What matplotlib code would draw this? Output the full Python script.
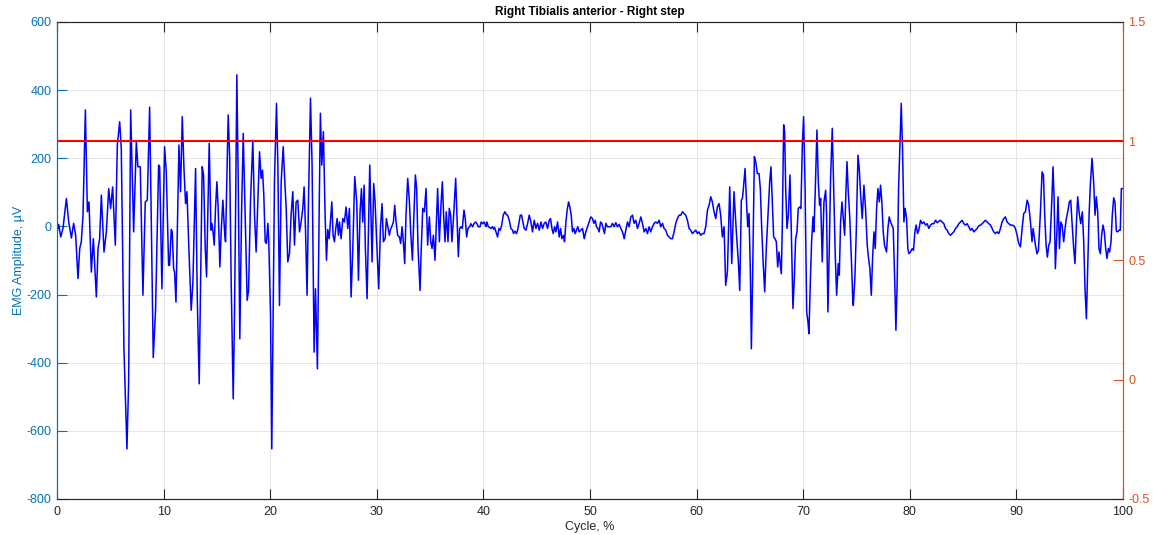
import matplotlib
matplotlib.use("Agg")
import matplotlib.pyplot as plt

plt.rcParams['font.family'] = ['Liberation Sans', 'DejaVu Sans']
plt.rcParams['axes.unicode_minus'] = False

# gait cycle position (%) and EMG amplitude (uV) of the right tibialis anterior
cycle_pct = [
    0.00, 0.16, 0.35, 0.56, 0.88, 1.10, 1.35, 1.56, 1.75, 1.97, 2.13, 2.28, 2.44, 2.66, 2.85, 3.00, 3.22, 3.41,
    3.69, 3.85, 4.00, 4.16, 4.41, 4.63, 4.85, 5.03, 5.22, 5.47, 5.66, 5.88, 6.03, 6.28, 6.56, 6.72, 6.91, 7.19,
    7.44, 7.59, 7.81, 8.06, 8.28, 8.47,
    8.69, 9.03, 9.25, 9.53, 9.63, 9.84, 10.09, 10.25, 10.47, 10.56, 10.72, 10.81, 10.94, 11.03, 11.16, 11.44,
    11.59, 11.75, 11.91, 12.06, 12.19, 12.37, 12.59, 12.75, 13.00, 13.16, 13.34, 13.47, 13.62, 13.75, 13.91,
    14.03, 14.15, 14.28, 14.44, 14.53, 14.62, 14.75, 14.87, 15.00, 15.12, 15.28, 15.40, 15.56, 15.72, 15.81,
    15.94, 16.06, 16.19, 16.34, 16.53, 16.65, 16.75, 16.87, 17.00, 17.15, 17.31, 17.47,
    17.84, 17.97, 18.15, 18.37, 18.53, 18.68, 18.84, 19.00, 19.15, 19.28, 19.40, 19.53, 19.65, 19.78, 19.87,
    20.03, 20.15, 20.28, 20.40, 20.59, 20.72, 20.87, 21.03, 21.22, 21.34, 21.50, 21.65, 21.81, 21.96, 22.12,
    22.28, 22.43, 22.59, 22.75, 22.90, 23.06, 23.18, 23.31, 23.46, 23.59, 23.78, 23.93, 24.12, 24.25, 24.43,
    24.59, 24.71, 24.84, 24.99, 25.15, 25.28, 25.40, 25.53, 25.65, 25.78, 25.90, 26.03, 26.15, 26.28, 26.40,
    26.50, 26.65, 26.81, 26.96, 27.12, 27.28, 27.43, 27.59, 27.75, 27.93, 28.12, 28.28, 28.43, 28.56, 28.68,
    28.81, 28.93, 29.09, 29.21, 29.34, 29.56, 29.71, 29.84, 29.99, 30.18, 30.34, 30.49, 30.62, 30.78, 30.90,
    31.06, 31.18, 31.28, 31.40, 31.56, 31.68, 31.81, 31.96, 32.12, 32.24, 32.37, 32.49, 32.62, 32.74, 32.90,
    33.06, 33.18, 33.34, 33.46, 33.62, 33.74, 33.87, 34.06, 34.15, 34.31, 34.46, 34.62, 34.77, 34.93, 35.06,
    35.18, 35.31,
    35.46, 35.71, 35.87, 36.02, 36.15, 36.27, 36.40, 36.52, 36.68, 36.80, 36.93, 37.05, 37.21, 37.40, 37.52,
    37.65, 37.77, 37.90, 38.02, 38.18, 38.30, 38.43, 38.55, 38.71, 38.83, 38.99, 39.12, 39.27, 39.40, 39.52,
    39.68, 39.80, 39.93, 40.08, 40.24, 40.33, 40.46, 40.58, 40.71, 40.87, 40.96, 41.05, 41.18, 41.33, 41.46,
    41.58, 41.71, 41.86, 42.02, 42.15, 42.27, 42.43, 42.58, 42.74, 42.83, 42.96, 43.11, 43.21, 43.33, 43.46,
    43.58, 43.71, 43.83, 43.99, 44.15,
    44.30, 44.46, 44.61, 44.77, 44.93, 45.08, 45.24, 45.40, 45.55, 45.71, 45.86, 46.02, 46.18, 46.30, 46.43,
    46.55, 46.68, 46.80, 46.96, 47.11, 47.24, 47.36, 47.52, 47.61, 47.74, 47.86, 47.99, 48.11, 48.24, 48.36,
    48.49, 48.61, 48.74, 48.86, 48.99, 49.14, 49.30, 49.46, 49.61, 49.77, 49.93, 50.08, 50.24, 50.36, 50.49,
    50.61, 50.74, 50.86, 50.99, 51.11, 51.24, 51.36, 51.49, 51.64, 51.80, 51.96, 52.11, 52.27, 52.42, 52.58,
    52.74, 52.89, 53.05,
    53.21, 53.36, 53.52, 53.67, 53.83, 53.99, 54.14, 54.30, 54.45, 54.61, 54.77, 54.92, 55.08, 55.24, 55.39,
    55.55, 55.70, 55.86, 56.02, 56.17, 56.33, 56.49, 56.64, 56.80, 56.95, 57.11, 57.27, 57.42, 57.58, 57.73,
    57.89, 58.05, 58.20, 58.36, 58.52, 58.67, 58.83, 58.98, 59.14, 59.30, 59.45, 59.61, 59.77, 59.92, 60.08,
    60.23, 60.39, 60.55, 60.70, 60.86, 61.02, 61.17, 61.33, 61.48, 61.64, 61.80, 61.95,
    62.11, 62.26, 62.42, 62.58, 62.73, 62.89, 63.11, 63.30, 63.51, 63.73, 63.92, 64.05, 64.20, 64.30, 64.39,
    64.55, 64.67, 64.80, 64.92, 65.05, 65.14, 65.26, 65.42, 65.55, 65.70, 65.86, 65.98, 66.11, 66.26, 66.39,
    66.54, 66.70, 66.86, 66.98, 67.11, 67.23, 67.36, 67.48, 67.61, 67.73, 67.86, 67.95, 68.04, 68.17, 68.26,
    68.36, 68.48, 68.61, 68.76, 68.89, 69.04, 69.17, 69.29, 69.42, 69.54, 69.67, 69.79, 69.92, 70.04, 70.17,
    70.33, 70.45, 70.54, 70.67, 70.79, 70.92,
    71.01, 71.14, 71.29, 71.42, 71.54, 71.64, 71.79, 71.95, 72.11, 72.20, 72.32, 72.45, 72.57, 72.73, 72.89,
    73.01, 73.14, 73.29, 73.39, 73.51, 73.64, 73.76, 73.89, 74.01, 74.11, 74.23, 74.36, 74.51, 74.64, 74.70,
    74.85, 74.98, 75.14, 75.26, 75.39, 75.54, 75.70, 75.85, 76.01, 76.10, 76.26, 76.39, 76.51, 76.64, 76.76,
    76.89, 77.01, 77.14, 77.26, 77.38, 77.51, 77.63, 77.82, 77.95, 78.07, 78.20, 78.32, 78.45, 78.60, 78.70,
    78.82, 78.95, 79.07, 79.20, 79.32, 79.45, 79.57, 79.70, 79.82,
    79.92, 80.07, 80.23, 80.35, 80.48, 80.60, 80.73, 80.85, 81.01, 81.17, 81.32, 81.48, 81.63, 81.79, 81.95,
    82.10, 82.26, 82.42, 82.57, 82.73, 82.88, 83.04, 83.20, 83.35, 83.51, 83.66, 83.82, 83.98, 84.13, 84.29,
    84.45, 84.60, 84.76, 84.91, 85.07, 85.23, 85.38, 85.54, 85.70, 85.85, 86.01, 86.16, 86.32, 86.48, 86.63,
    86.79, 86.94, 87.10, 87.26, 87.41, 87.57, 87.73, 87.88, 88.04, 88.19, 88.35, 88.51, 88.66,
    88.82, 88.97, 89.13, 89.29, 89.44, 89.60, 89.76, 89.91, 90.07, 90.22, 90.38, 90.54, 90.69, 90.85, 91.01,
    91.16, 91.32, 91.47, 91.57, 91.66, 91.79, 91.94, 92.07, 92.26, 92.41, 92.54, 92.66, 92.79, 92.91, 93.04,
    93.16, 93.32, 93.44, 93.54, 93.66, 93.79, 93.91, 94.04, 94.16, 94.29, 94.44, 94.57, 94.69, 94.82, 94.97,
    95.10, 95.22, 95.38, 95.50, 95.63, 95.75, 95.88, 96.04, 96.19, 96.32, 96.44, 96.57, 96.69, 96.82, 96.94,
    97.10, 97.25, 97.38, 97.50, 97.63, 97.75, 97.88, 98.00, 98.13, 98.25, 98.38, 98.50, 98.63, 98.75, 98.88,
    99.00, 99.13, 99.25, 99.38, 99.50, 99.63, 99.75, 99.85, 100.00,
]

emg_uv = [
    -16, 6, -31, -6, 82, 13, -34, 9, -26, -153, -65, -45, 33, 342, 43, 72, -134, -36,
    -207, -65, -36, 92, -75, -16, 111, 53, 116, -55, 239, 307, 229, -359, -653, -457, 342, -16,
    249, 175, 175, -202, 72, 77,
    350, -385, -241, 180, 175, -183, 234, 160, -114, -114, -9, -16, -124, -134, -222, 239,
    102, 322, 170, 67, 102, -65, -246, -163, 170, -212, -462, -163, 175, 151, -65,
    -148, 33, 244, -11, 9, -11, -55, 53, 131, 53, -119, -16, 77, -16, -45,
    151, 327, 209, -163, -506, -261, 33, 445, 131, -330, 33, 273,
    -217, -188, 72, 253, 33, -75, 72, 219, 141, 165, 92, -45, -50, 9, -45,
    -261, -653, -261, 131, 361, 180, -232, 131, 234, 151, 53, -104, -80, 33, 102,
    -55, 72, 77, -16, 13, 53, 116, -6, -202, 72, 376, 180, -369, -183, -418,
    33, 332, 180, 278, 33, -99, -9, -36, 13, 72, -26, -45, -6, 23, -26,
    13, -36, 23, 13, 57, -6, 53, -207, -65, 146, 72, -158, 43, 111, 13,
    121, -65, -212, -16, 180, -104, 126, 72, -45, -183, -6, 67, -45, -36, 23,
    -6, -26, -9, -1, 13, 62, 13, -26, -31, -50, -1, -45, -109, 33, 141,
    72, -16, -99, 13, 151, 111, -65, -188, -85, 53, 43, 111, -55, 28, -45,
    -65, -26,
    -99, 111, -45, 62, 131, 33, -45, 43, -45, 53, 33, -45, 33, 141, 33,
    -89, -6, -1, -6, 48, 23, -31, -6, -1, 8, -1, 8, 13, 8, -1,
    -1, 13, 8, 13, -1, 13, -1, -3, -6, -1, -8, -3, -16, -31, -6,
    -11, 2, 33, 43, 35, 33, 18, -6, -11, -21, -14, -21, -11, 9, 33,
    33, 13, -6, -11, 9,
    33, 13, -16, 18, -6, 9, -11, 13, -6, 9, 13, -6, 18, 23, -6,
    -21, -1, -16, 13, -31, -6, -36, -26, -45, 13, 48, 72, 57, 33, -16,
    -6, -21, -11, -1, -16, -11, -6, -36, -16, -1, 13, 28, 23, 9, 18,
    -1, -6, -16, 13, 9, -6, -21, 9, -1, -1, -1, 9, -1, 11, -1,
    6, -6, -16,
    -36, -11, 13, -1, 28, 33, 9, 18, -6, 9, 28, 9, -16, -6, -21,
    -1, -16, -1, 9, 13, 9, 18, -1, 9, -6, -11, -26, -31, -36, -36,
    -16, 9, 23, 33, 33, 43, 38, 33, 18, -6, -11, -21, -16, -11, -21,
    -16, -26, -21, -21, -1, 48, 62, 87, 72, 43, 23, 57,
    67, 33, -31, -1, -173, -134, 116, -109, 102, -16, -104, -188, 77, 82, 111,
    170, 82, -1, 38, -143, -359, -143, 205, 190, 155, 155, 111, -6, -114, -192,
    -65, 33, 131, 175, 72, -31, -36, -45, -119, -75, -114, -139, -1, 298, 278,
    111, -6, 33, 151, -16, -241, -153, -36, -16, 53, 57, 53, 239, 322, 131,
    -251, -281, -315, -163, -45, 28,
    -16, 111, 283, 131, 62, 82, -104, 72, 106, 33, -251, -65, 141, 288, 72,
    -85, -202, -109, -143, 13, 72, 23, -26, 102, 190, 102, 33, -85, -202, -232,
    -153, -16, 209, 170, 92, 23, 121, 53, -55, -85, -124, -202, -94, -16, -65,
    53, 111, 72, 121, 72, -16, -55, -75, -6, 28, 13, 4, -6, -173, -305,
    -163, 111, 229, 361, 229, 13, 53, 23, -65,
    -80, -75, -65, -70, -16, 4, -21, -11, 18, 8, 13, 4, 8, -6, 4,
    8, 8, 18, 11, 15, 18, 13, 8, -6, -11, -21, -26, -21, -16, -6,
    -1, 8, 13, 18, 8, 4, 8, -1, -11, -6, -16, -11, -6, 2, 4,
    8, 13, 18, 13, 8, 4, -6, -16, -21, -16, -21, -6, 13,
    23, 28, 13, 8, 4, 4, 2, -6, -26, -50, -60, -6, 38, 43, 77,
    62, 13, -45, -6, -26, -55, -80, -70, 43, 160, 151, 33, -55, -90, -55,
    -45, 72, 175, 82, -124, -26, 87, -65, 13, 4, -45, -6, 23, 43, 72,
    77, 13, -65, -109, 4, 87, 43, 8, 43, -45, -183, -271, -124, 33, 121,
    200, 131, 33, 87, 43, -65, -80, -26, 4, -16, -65, -94, -65, -75, -45,
    33, 84, 72, -14, -16, -11, -11, 111, 111,
]

threshold = 1.0  # normalised activation threshold, right axis

x_ticks = [0, 10, 20, 30, 40, 50, 60, 70, 80, 90, 100]
left_ticks = [-800, -600, -400, -200, 0, 200, 400, 600]
right_ticks = [-0.5, 0, 0.5, 1, 1.5]
right_tick_labels = ['-0.5', '0', '0.5', '1', '1.5']

blue_axis = (0, 0.447, 0.741)
orange_axis = (0.85, 0.325, 0.098)
dark = (0.15, 0.15, 0.15)

fig = plt.figure(figsize=(11.54, 5.35), dpi=100)
ax = fig.add_axes([0.0494, 0.0673, 0.9237, 0.8916])
ax2 = ax.twinx()

ax.plot(cycle_pct, emg_uv, color='b', lw=1.1)
ax2.axhline(threshold, color='r', lw=1.5)

ax.set_xlim(0, 100)
ax.set_ylim(-800, 600)
ax2.set_ylim(-0.5, 1.5)
ax.set_xticks(x_ticks)
ax.set_yticks(left_ticks)
ax2.set_yticks(right_ticks, labels=right_tick_labels)

ax.set_axisbelow(True)
ax.grid(True, color=(0.88, 0.88, 0.88), lw=0.6)

ax.tick_params(axis='x', direction='in', length=7, top=True, colors=dark, labelsize=9, pad=5)
ax.tick_params(axis='y', direction='in', length=7, colors=blue_axis, labelsize=9, pad=4)
ax2.tick_params(axis='y', direction='in', length=7, colors=orange_axis, labelsize=9, pad=4)

for a in (ax, ax2):
    a.spines['top'].set_color(dark)
    a.spines['bottom'].set_color(dark)
    a.spines['left'].set_color(blue_axis)
    a.spines['right'].set_color(orange_axis)
    for s in a.spines.values():
        s.set_linewidth(0.8)

ax.set_title('Right Tibialis anterior - Right step', fontsize=8.5, fontweight='bold', pad=5)
ax.set_xlabel('Cycle, %', fontsize=9, color=dark, labelpad=2)
ax.set_ylabel('EMG Amplitude, µV', fontsize=9, color=blue_axis, labelpad=1)

fig.savefig('out.png', dpi=100)
